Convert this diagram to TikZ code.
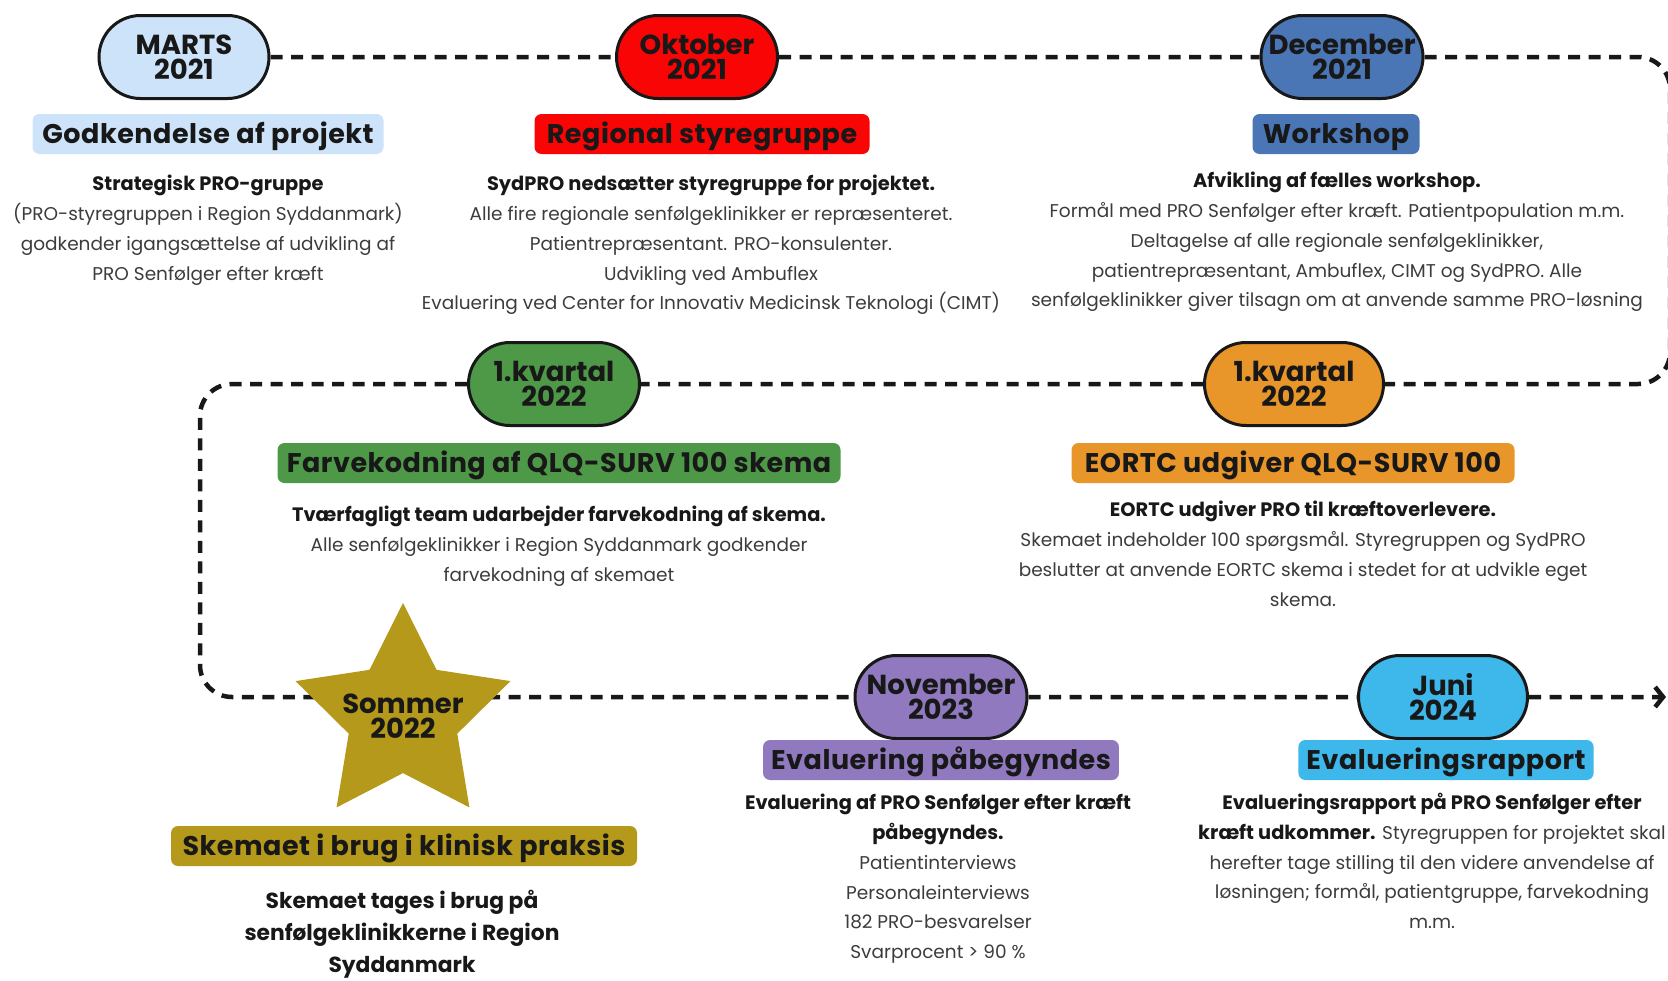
\documentclass[tikz,border=0pt]{standalone}
\usepackage{fontspec}
\setmainfont{Poppins}
\usepackage{tikz}
\usetikzlibrary{shapes.misc}
\usetikzlibrary{shapes.geometric}
\usetikzlibrary{arrows.meta}
\usetikzlibrary{backgrounds}
\usepackage{xcolor}
\definecolor{ColA}{RGB}{204,227,249}
\definecolor{ColB}{RGB}{250,5,5}
\definecolor{ColC}{RGB}{74,118,182}
\definecolor{ColD}{RGB}{78,153,72}
\definecolor{ColE}{RGB}{232,150,42}
\definecolor{ColF}{RGB}{181,153,27}
\definecolor{ColG}{RGB}{145,121,192}
\definecolor{ColH}{RGB}{62,183,235}
\definecolor{ColInk}{RGB}{24,24,24}
\definecolor{ColBody}{RGB}{60,60,60}
\tikzstyle{DatePill}=[rounded rectangle,draw=ColInk,line width=3pt,minimum height=83pt,
inner sep=0pt,align=center,text=ColInk,font=\bfseries\fontsize{27.5}{25}\selectfont]
\tikzstyle{TitleBox}=[rectangle,rounded corners=7pt,minimum height=40pt,inner xsep=8pt,
text height=21pt,text depth=2pt,text=ColInk,
font=\bfseries\fontsize{27}{27}\selectfont\addfontfeatures{LetterSpace=2}]
\tikzstyle{InfoText}=[align=center,anchor=north,inner sep=0pt,text=ColBody,
font=\fontsize{18.5}{29.8}\selectfont]
\tikzstyle{TimeLine}=[ColInk,line width=4.5pt,dash pattern=on 12pt off 8.5pt,rounded corners=32pt]
\newcommand{\Strong}[1]{{\color{ColInk}\bfseries\fontsize{19.4}{29.8}\selectfont #1}}

\begin{document}
\begin{tikzpicture}[x=1pt,y=-1pt]
        \useasboundingbox(0,0)rectangle(1668,980);
        % datoer
        \node[DatePill,fill=ColA,minimum width=170pt](marts)at(184,57){MARTS\\2021};
        \node[DatePill,fill=ColB,minimum width=161pt](okt)at(697,57){Oktober\\2021};
        \node[DatePill,fill=ColC,minimum width=162pt](dec)at(1342,57){December\\2021};
        \node[DatePill,fill=ColD,minimum width=171pt](kvg)at(554,384){1.kvartal\\2022};
        \node[DatePill,fill=ColE,minimum width=179pt](kvo)at(1294,384){1.kvartal\\2022};
        \node[star,star points=5,star point ratio=1.98,minimum size=226pt,inner sep=0pt,
        fill=ColF,label={[align=center,text=ColInk,font=\bfseries\fontsize{27.5}{25}\selectfont]
        center:Sommer\\2022}](sommer)at(403,716){};
        \node[DatePill,fill=ColG,minimum width=172pt](nov)at(941,697){November\\2023};
        \node[DatePill,fill=ColH,minimum width=169pt](juni)at(1443,697){Juni\\2024};
        % overskrifter
        \node[TitleBox,fill=ColA,minimum width=351pt](tA)at(208,134){Godkendelse af projekt};
        \node[TitleBox,fill=ColB,minimum width=335pt](tB)at(702,134){Regional styregruppe};
        \node[TitleBox,fill=ColC,minimum width=167pt](tC)at(1336,134){Workshop};
        \node[TitleBox,fill=ColD,minimum width=563pt](tD)at(559,463){Farvekodning af QLQ-SURV 100 skema};
        \node[TitleBox,fill=ColE,minimum width=443pt](tE)at(1293,463){EORTC udgiver QLQ-SURV 100};
        \node[TitleBox,fill=ColF,minimum width=466pt](tF)at(404,846){Skemaet i brug i klinisk praksis};
        \node[TitleBox,fill=ColG,minimum width=353pt](tG)at(941,760){Evaluering påbegyndes};
        \node[TitleBox,fill=ColH,minimum width=293pt](tH)at(1446,760){Evalueringsrapport};
        % tekster
        \node[InfoText](xA)at(208,175){\Strong{Strategisk PRO-gruppe}\\(PRO-styregruppen i Region Syddanmark)\\
        godkender igangsættelse af udvikling af\\PRO Senfølger efter kræft};
        \node[InfoText](xB)at(711,175){\Strong{SydPRO nedsætter styregruppe for projektet.}\\
        Alle fire regionale senfølgeklinikker er repræsenteret.\\Patientrepræsentant. PRO-konsulenter.\\
        Udvikling ved Ambuflex\\Evaluering ved Center for Innovativ Medicinsk Teknologi (CIMT)};
        \node[InfoText](xC)at(1337,172){\Strong{Afvikling af fælles workshop.}\\
        Formål med PRO Senfølger efter kræft. Patientpopulation m.m.\\
        Deltagelse af alle regionale senfølgeklinikker,\\patientrepræsentant, Ambuflex, CIMT og SydPRO. Alle\\
        senfølgeklinikker giver tilsagn om at anvende samme PRO-løsning};
        \node[InfoText](xD)at(559,506){\Strong{Tværfagligt team udarbejder farvekodning af skema.}\\
        Alle senfølgeklinikker i Region Syddanmark godkender\\farvekodning af skemaet};
        \node[InfoText](xE)at(1303,501){\Strong{EORTC udgiver PRO til kræftoverlevere.}\\
        Skemaet indeholder 100 spørgsmål. Styregruppen og SydPRO\\
        beslutter at anvende EORTC skema i stedet for at udvikle eget\\skema.};
        \node[InfoText,font=\bfseries\fontsize{21.8}{32}\selectfont,text=ColInk](xF)at(402,890){Skemaet tages i brug på\\
        senfølgeklinikkerne i Region\\Syddanmark};
        \node[InfoText](xG)at(938,794){\Strong{Evaluering af PRO Senfølger efter kræft}\\\Strong{påbegyndes.}\\
        Patientinterviews\\Personaleinterviews\\182 PRO-besvarelser\\Svarprocent > 90 \%};
        \node[InfoText](xH)at(1432,793){\Strong{Evalueringsrapport på PRO Senfølger efter}\\
        \Strong{kræft udkommer.} Styregruppen for projektet skal\\herefter tage stilling til den videre anvendelse af\\
        løsningen; formål, patientgruppe, farvekodning\\m.m.};
        % tidslinje
        \coordinate(BendA)at(1670,57);
        \coordinate(BendB)at(1670,384);
        \coordinate(BendC)at(200,384);
        \coordinate(BendD)at(200,697);
        \coordinate(LineEnd)at(1666,697);
        \begin{scope}[on background layer]
        \draw[TimeLine](marts)--(okt);
        \draw[TimeLine](okt)--(dec);
        \draw[TimeLine](dec)--(BendA)--(BendB)--(kvo);
        \draw[TimeLine](kvo)--(kvg);
        \draw[TimeLine](kvg)--(BendC)--(BendD)--(nov);
        \draw[TimeLine](nov)--(juni);
        \draw[TimeLine,-{Straight Barb[length=8pt,width=20pt,line width=4.5pt]}](juni)--(LineEnd);
        \end{scope}
    \end{tikzpicture}
\end{document}
